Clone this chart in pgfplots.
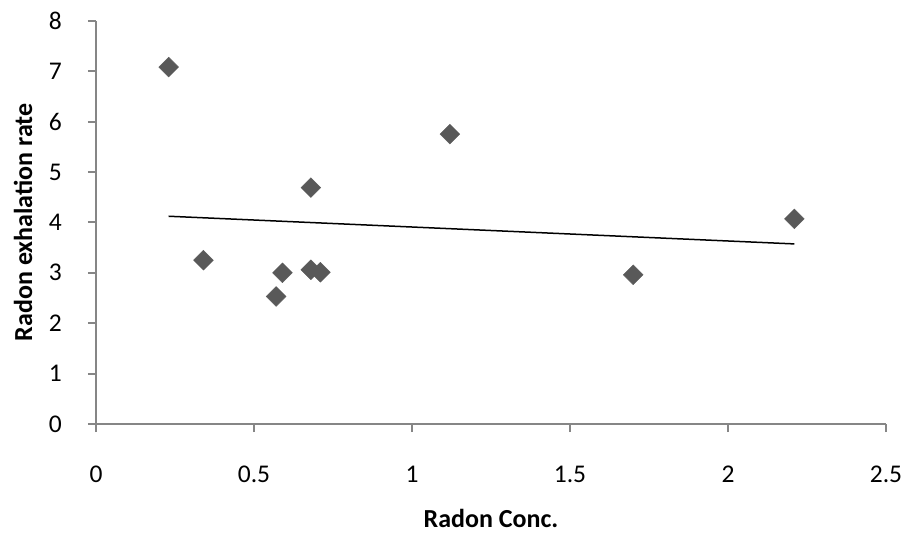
\documentclass[border=0pt]{standalone}
\usepackage{fontspec}
\setmainfont{Carlito}
\usepackage{pgfplots}
\usepackage{pgfplotstable}
\pgfplotsset{compat=1.18}
\usetikzlibrary{calc}
\definecolor{axisgray}{RGB}{134,134,134}
\definecolor{markgray}{RGB}{89,89,89}

\pgfplotstableread{
x     y
0.23  7.08
0.34  3.25
0.57  2.53
0.59  3.00
0.68  3.06
0.68  4.69
0.71  3.01
1.12  5.75
1.70  2.96
2.21  4.07
}\radondata

\begin{document}
\begin{tikzpicture}
\begin{axis}[
    name=ax,
    scale only axis,
    width=790pt,
    height=403.3pt,
    xmin=0, xmax=2.5,
    ymin=0, ymax=8,
    xtick={0,0.5,...,2.5},
    ytick={0,1,...,8},
    axis lines*=left,
    axis line style={axisgray, line width=2pt},
    tick style={axisgray, line width=2pt},
    tick align=outside,
    major tick length=8pt,
    /pgf/number format/assume math mode=true,
    ticklabel style={font=\fontsize{25.5}{30}\selectfont, inner sep=0pt},
    xticklabel style={anchor=base, yshift=-50pt},
    yticklabel style={anchor=east, xshift=-26pt},
    xlabel={Radon Conc.},
    ylabel={Radon exhalation rate},
    label style={font=\fontsize{26}{31}\selectfont\bfseries, inner sep=0pt},
    xlabel style={at={(axis description cs:0.5,-0.2554)}, anchor=base},
    ylabel style={at={(axis description cs:-0.081,0.5)}, anchor=base},
    clip=false,
]
\addplot[only marks, mark=square*, mark size=7pt,
         mark options={rotate=45, fill=markgray, draw=markgray}]
    table[x=x, y=y] {\radondata};
\addplot[black, line width=1.5pt, no marks]
    table[x=x, y={create col/linear regression={y=y}}] {\radondata};
\end{axis}
\pgfresetboundingbox
\path[use as bounding box] ($(ax.south west)+(-96pt,-109pt)$) rectangle ++(907pt,533pt);
\end{tikzpicture}
\end{document}
